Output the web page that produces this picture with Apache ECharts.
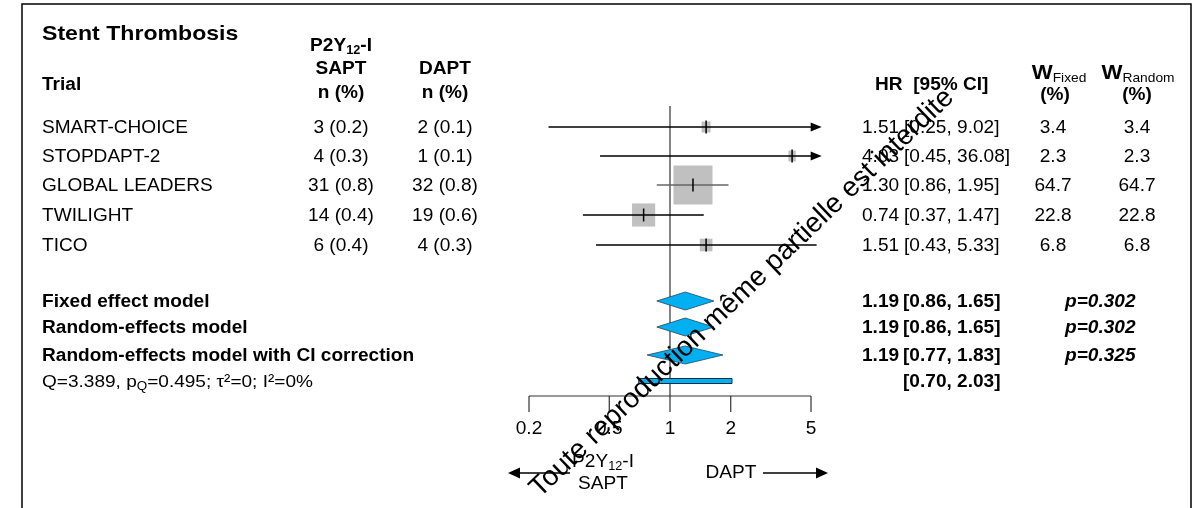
<!DOCTYPE html>
<html><head><meta charset="utf-8">
<script src="https://cdn.jsdelivr.net/npm/echarts@6/dist/echarts.min.js"></script>
<style>html,body{margin:0;padding:0;background:#fff}#c{width:1201px;height:508px}</style>
</head><body><div id="c"></div>
<script>
// ---------------- data ----------------
const trials   = ['SMART-CHOICE','STOPDAPT-2','GLOBAL LEADERS','TWILIGHT','TICO'];
const saptN    = ['3 (0.2)','4 (0.3)','31 (0.8)','14 (0.4)','6 (0.4)'];
const daptN    = ['2 (0.1)','1 (0.1)','32 (0.8)','19 (0.6)','4 (0.3)'];
const hr       = [1.51, 4.03, 1.30, 0.74, 1.51];
const ciLow    = [0.25, 0.45, 0.86, 0.37, 0.43];
const ciHigh   = [9.02, 36.08, 1.95, 1.47, 5.33];
const wFixed   = [3.4, 2.3, 64.7, 22.8, 6.8];
const wRandom  = [3.4, 2.3, 64.7, 22.8, 6.8];
const models   = ['Fixed effect model','Random-effects model','Random-effects model with CI correction'];
const modelHR  = [1.19, 1.19, 1.19];
const modelLow = [0.86, 0.86, 0.77];
const modelHigh= [1.65, 1.65, 1.83];
const modelP   = ['0.302','0.302','0.325'];
const predInt  = [0.70, 2.03];
const xTicks   = [0.2, 0.5, 1, 2, 5];
const xTickLabels = ['0.2','0.5','1','2','5'];
const hetQ = '3.389', hetPQ = '0.495', hetTau2 = '0', hetI2 = '0%';

// ---------------- layout ----------------
const FONT = '"Liberation Sans", Arial, sans-serif';
const SX = 1.06;
const FS = 18;
const DY = 1.5;
const rowY = [127, 156, 185, 215, 245];
const modelY = [301, 327, 355];
const predY = 381;
const axisY = 396, tickEnd = 412, tickLabelY = 428, refTop = 106;
const capHigh = 5.65;

const chart = echarts.init(document.getElementById('c'), null, {renderer: 'canvas'});

function txt(x, y, text, opt) {
  opt = opt || {};
  return {
    type: 'text', x: x, y: y + DY, scaleX: opt.sx || SX, z: 10,
    style: {
      text: text,
      fontFamily: FONT,
      fontSize: opt.size || FS,
      fontWeight: opt.bold ? 'bold' : 'normal',
      fontStyle: opt.italic ? 'italic' : 'normal',
      fill: opt.color || '#000',
      align: opt.align || 'left', textAlign: opt.align || 'left',
      verticalAlign: 'middle', textVerticalAlign: 'middle',
      rich: opt.rich
    }
  };
}
function subRichOf(size, subSize, bold) {
  return {
    a: {fontFamily: FONT, fontSize: size, fontWeight: bold ? 'bold' : 'normal', lineHeight: size + 3, verticalAlign: 'middle'},
    b: {fontFamily: FONT, fontSize: subSize, fontWeight: bold ? 'bold' : 'normal', lineHeight: subSize, verticalAlign: 'bottom'}
  };
}

const g = [];
// frame
g.push({type: 'rect', shape: {x: 22, y: 4, width: 1169, height: 520}, style: {fill: 'none', stroke: '#000', lineWidth: 1.5}, z: 1});
// headers
g.push(txt(42, 33, 'Stent Thrombosis', {bold: true, size: 21, sx: 1.1}));
g.push(txt(42, 84, 'Trial', {bold: true}));
g.push(txt(341, 45, '{a|P2Y}{b|12}{a|-I}', {bold: true, align: 'center', rich: subRichOf(FS, 12, true)}));
g.push(txt(341, 68, 'SAPT', {bold: true, align: 'center'}));
g.push(txt(341, 92, 'n (%)', {bold: true, align: 'center'}));
g.push(txt(445, 68, 'DAPT', {bold: true, align: 'center'}));
g.push(txt(445, 92, 'n (%)', {bold: true, align: 'center'}));
g.push(txt(875, 84, 'HR  [95% CI]', {bold: true}));
const wRich = {
  a: {fontFamily: FONT, fontSize: 21, fontWeight: 'bold', lineHeight: 23, verticalAlign: 'middle'},
  b: {fontFamily: FONT, fontSize: 13, fontWeight: 'normal', lineHeight: 13, verticalAlign: 'bottom'}
};
g.push(txt(1059, 72, '{a|W}{b|Fixed}', {align: 'center', rich: wRich}));
g.push(txt(1055, 94, '(%)', {bold: true, align: 'center'}));
g.push(txt(1138, 72, '{a|W}{b|Random}', {align: 'center', rich: wRich}));
g.push(txt(1137, 94, '(%)', {bold: true, align: 'center'}));
// trial rows
trials.forEach((t, i) => {
  const y = rowY[i];
  g.push(txt(42, y, t));
  g.push(txt(341, y, saptN[i], {align: 'center'}));
  g.push(txt(445, y, daptN[i], {align: 'center'}));
  g.push(txt(862, y, hr[i].toFixed(2)));
  g.push(txt(904, y, '[' + ciLow[i].toFixed(2) + ', ' + ciHigh[i].toFixed(2) + ']'));
  g.push(txt(1053, y, wFixed[i].toFixed(1), {align: 'center'}));
  g.push(txt(1137, y, wRandom[i].toFixed(1), {align: 'center'}));
});
// model rows
models.forEach((m, i) => {
  const y = modelY[i];
  g.push(txt(42, y, m, {bold: true}));
  g.push(txt(862, y, modelHR[i].toFixed(2), {bold: true}));
  g.push(txt(903, y, '[' + modelLow[i].toFixed(2) + ', ' + modelHigh[i].toFixed(2) + ']', {bold: true}));
  g.push(txt(1065, y, 'p=' + modelP[i], {bold: true, italic: true}));
});
g.push(txt(903, predY, '[' + predInt[0].toFixed(2) + ', ' + predInt[1].toFixed(2) + ']', {bold: true}));
g.push(txt(42, predY, '{a|Q=' + hetQ + ', p}{b|Q}{a|=' + hetPQ + '; τ²=' + hetTau2 + '; I²=' + hetI2 + '}',
  {rich: subRichOf(17, 12, false), sx: 1.12}));
// direction labels
g.push(txt(603, 461, '{a|P2Y}{b|12}{a|-I}', {align: 'center', rich: subRichOf(FS, 12, false)}));
g.push(txt(603, 483, 'SAPT', {align: 'center'}));
g.push(txt(731, 472, 'DAPT', {align: 'center'}));
g.push({type: 'line', shape: {x1: 570, y1: 473, x2: 518, y2: 473}, style: {stroke: '#000', lineWidth: 1.3}, z: 5});
g.push({type: 'polygon', shape: {points: [[508, 473], [520, 467.5], [520, 478.5]]}, style: {fill: '#000'}, z: 5});
g.push({type: 'line', shape: {x1: 763, y1: 473, x2: 816, y2: 473}, style: {stroke: '#000', lineWidth: 1.3}, z: 5});
g.push({type: 'polygon', shape: {points: [[828, 473], [816, 467.5], [816, 478.5]]}, style: {fill: '#000'}, z: 5});
// watermark
g.push({type: 'text', x: 742, y: 293, rotation: 0.766, z: 20,
  style: {text: 'Toute reproduction même partielle est interdite', fontFamily: FONT, fontSize: 28,
    fill: '#000', align: 'center', textAlign: 'center', verticalAlign: 'middle', textVerticalAlign: 'middle'}});

// ---------------- series ----------------
const trialData = trials.map((t, i) => [hr[i], ciLow[i], ciHigh[i], wFixed[i], i]);
const modelData = models.map((m, i) => [modelHR[i], modelLow[i], modelHigh[i], i]);

const option = {
  animation: false,
  backgroundColor: '#fff',
  grid: {left: 529, width: 282, top: 0, height: 508},
  xAxis: {type: 'log', min: 0.2, max: 5, show: false},
  yAxis: {type: 'value', min: 0, max: 508, inverse: true, show: false},
  graphic: g,
  series: [
    { // axis, ticks, labels, reference line
      type: 'custom', clip: false, z: 2, silent: true,
      data: xTicks.map((v, i) => [v, i]),
      encode: {x: 0},
      renderItem: function (params, api) {
        const i = params.dataIndex;
        const v = api.value(0);
        const p = api.coord([v, axisY]);
        const te = api.coord([v, tickEnd]);
        const lb = api.coord([v, tickLabelY]);
        const ch = [
          {type: 'line', shape: {x1: p[0], y1: p[1], x2: te[0], y2: te[1]}, style: {stroke: '#333', lineWidth: 1.2}},
          {type: 'text', x: lb[0], y: lb[1] + DY, scaleX: SX, style: {text: xTickLabels[i], fontFamily: FONT, fontSize: FS, fill: '#000', align: 'center', verticalAlign: 'middle'}}
        ];
        if (i === 0) {
          const a = api.coord([xTicks[0], axisY]);
          const b = api.coord([xTicks[xTicks.length - 1], axisY]);
          ch.push({type: 'line', shape: {x1: a[0], y1: a[1], x2: b[0], y2: b[1]}, style: {stroke: '#333', lineWidth: 1.2}});
        }
        if (v === 1) {
          const t = api.coord([1, refTop]);
          ch.push({type: 'line', shape: {x1: t[0], y1: t[1], x2: p[0], y2: p[1]}, style: {stroke: '#333', lineWidth: 1.2}});
        }
        return {type: 'group', children: ch};
      }
    },
    { // trials
      type: 'custom', clip: false, z: 3, silent: true,
      data: trialData,
      encode: {x: [0, 1]},
      renderItem: function (params, api) {
        const i = api.value(4);
        const y = rowY[i];
        const lo = api.coord([api.value(1), y]);
        const up = api.value(2);
        const hiV = Math.min(up, capHigh);
        const hi = api.coord([hiV, y]);
        const c = api.coord([api.value(0), y]);
        const side = 4.85 * Math.sqrt(api.value(3));
        const bw = side, bh = Math.max(side, 11);
        const lineColor = side > 30 ? '#666' : '#000';
        const ch = [];
        ch.push({type: 'rect', shape: {x: c[0] - bw / 2, y: c[1] - bh / 2, width: bw, height: bh}, style: {fill: '#c0c0c0'}});
        const endX = up > capHigh ? hi[0] - 10 : hi[0];
        ch.push({type: 'line', shape: {x1: lo[0], y1: y, x2: endX, y2: y}, style: {stroke: lineColor, lineWidth: 1.3}});
        if (up > capHigh) {
          ch.push({type: 'polygon', shape: {points: [[hi[0], y], [hi[0] - 11, y - 4.5], [hi[0] - 11, y + 4.5]]}, style: {fill: '#000'}});
        }
        ch.push({type: 'line', shape: {x1: c[0], y1: y - 6.5, x2: c[0], y2: y + 6.5}, style: {stroke: '#000', lineWidth: 1.5}});
        return {type: 'group', children: ch};
      }
    },
    { // pooled diamonds and prediction interval
      type: 'custom', clip: false, z: 4, silent: true,
      data: modelData,
      encode: {x: [0, 1, 2]},
      renderItem: function (params, api) {
        const i = api.value(3);
        const y = modelY[i];
        const c = api.coord([api.value(0), y]);
        const lo = api.coord([api.value(1), y]);
        const hi = api.coord([api.value(2), y]);
        const ch = [{type: 'polygon', shape: {points: [[lo[0], y], [c[0], y - 9], [hi[0], y], [c[0], y + 9]]},
          style: {fill: '#00b0f0', stroke: '#24465e', lineWidth: 0.8}}];
        if (i === 0) {
          const a = api.coord([predInt[0], predY]);
          const b = api.coord([predInt[1], predY]);
          ch.push({type: 'rect', shape: {x: a[0], y: predY - 2.5, width: b[0] - a[0], height: 5},
            style: {fill: '#00b0f0', stroke: '#1a2a3a', lineWidth: 1}});
        }
        return {type: 'group', children: ch};
      }
    }
  ]
};
chart.setOption(option);
</script></body></html>
